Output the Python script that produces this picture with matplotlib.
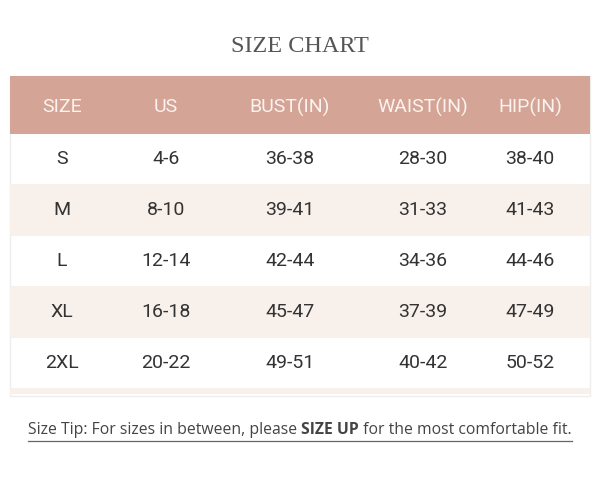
import matplotlib
matplotlib.use("Agg")
import matplotlib.pyplot as plt
from matplotlib.patches import Rectangle

title = "SIZE CHART"
headers = ["SIZE", "US", "BUST(IN)", "WAIST(IN)", "HIP(IN)"]
sizes = ["S", "M", "L", "XL", "2XL"]
us = ["4-6", "8-10", "12-14", "16-18", "20-22"]
bust = ["36-38", "39-41", "42-44", "45-47", "49-51"]
waist = ["28-30", "31-33", "34-36", "37-39", "40-42"]
hip = ["38-40", "41-43", "44-46", "47-49", "50-52"]
tip_parts = [("Size Tip: For sizes in between, please ", "normal"),
             ("SIZE UP", "bold"),
             (" for the most comfortable fit.", "normal")]

col_x = [62, 166, 290, 423, 530]
row_top = [134, 184, 236, 286, 338]
row_h = [50, 52, 50, 52, 50]

fig = plt.figure(figsize=(6, 4.8), dpi=100)
ax = fig.add_axes([0, 0, 1, 1])
ax.set_xlim(0, 600); ax.set_ylim(480, 0); ax.axis("off")

ax.text(300, 47, title, ha="center", va="center", fontsize=17.5,
        family="Liberation Serif", color="#555555")
ax.add_patch(Rectangle((10, 76), 580, 320, facecolor="white", edgecolor="#eeeeee", lw=1))
ax.add_patch(Rectangle((10, 76), 580, 58, facecolor="#D4A496", lw=0))
for i, h in enumerate(headers):
    ax.text(col_x[i], 107, h, ha="center", va="center", fontsize=14,
            family="Roboto", color="#fbf3ef")
cols = [sizes, us, bust, waist, hip]
for r in range(5):
    if r % 2 == 1:
        ax.add_patch(Rectangle((10, row_top[r]), 580, row_h[r], facecolor="#F8F0EB", lw=0))
    yc = row_top[r] + row_h[r] / 2
    for c in range(5):
        ax.text(col_x[c], yc, cols[c][r], ha="center", va="center", fontsize=14,
                family="Roboto", color="#333333")
ax.add_patch(Rectangle((10, 388), 580, 6, facecolor="#F8F0EB", lw=0))

fig.canvas.draw()
rend = fig.canvas.get_renderer()
texts = []
for s, w in tip_parts:
    texts.append(ax.text(0, 430, s, ha="left", va="center", fontsize=11.3,
                         family="Open Sans", weight=w, color="#444444"))
widths = [t.get_window_extent(rend).width for t in texts]
x = 300 - sum(widths) / 2
x0 = x
for t, w in zip(texts, widths):
    t.set_x(x); x += w
ax.plot([x0, x], [441, 441], color="#666666", lw=0.9)
fig.savefig("out.png", dpi=100)
